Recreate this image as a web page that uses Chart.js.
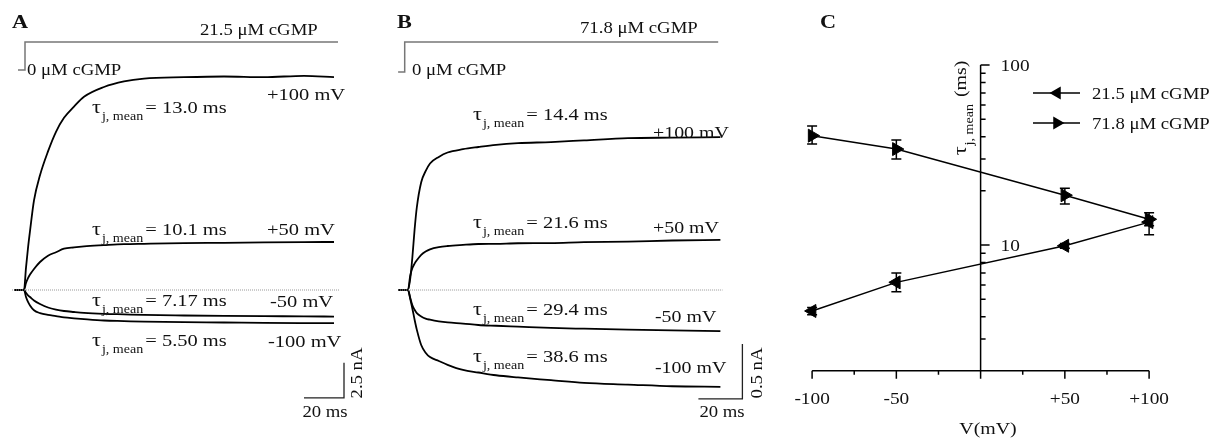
<!DOCTYPE html>
<html>
<head>
<meta charset="utf-8">
<script src="https://cdn.jsdelivr.net/npm/chart.js@4.4.1/dist/chart.umd.min.js"></script>
<style>
  body { margin:0; background:#fff; }
  #wrap { position:relative; width:1215px; height:439px; }
  #wrap canvas { position:absolute; left:0; top:0; }
</style>
</head>
<body>
<div id="wrap">
  <canvas id="panelA" width="1215" height="439"></canvas>
  <canvas id="panelB" width="1215" height="439"></canvas>
  <canvas id="panelC" width="1215" height="439"></canvas>
</div>
<script>
// ---- panel A : 21.5 uM cGMP jump (time ms, current nA) ----
var timeA   = [-5, 0, 1, 2, 3, 5, 8, 12, 16, 20, 25, 30, 40, 50, 60, 80, 100, 120, 140, 155];
var iA_p100 = [0, 0, 1.6, 3.0, 4.2, 6.4, 8.2, 9.9, 11.3, 12.3, 13.1, 13.8, 14.5, 14.9, 15.1, 15.2, 15.25, 15.2, 15.3, 15.2];
var iA_p50  = [0, 0, 0.5, 0.85, 1.1, 1.5, 2.0, 2.45, 2.7, 2.95, 3.05, 3.12, 3.2, 3.27, 3.3, 3.35, 3.37, 3.4, 3.42, 3.43];
var iA_m50  = [0, 0, -0.2, -0.38, -0.5, -0.75, -1.0, -1.25, -1.4, -1.5, -1.57, -1.63, -1.7, -1.74, -1.78, -1.82, -1.85, -1.87, -1.88, -1.9];
var iA_m100 = [0, 0, -0.5, -0.85, -1.1, -1.45, -1.65, -1.78, -1.86, -1.95, -2.02, -2.08, -2.18, -2.22, -2.26, -2.3, -2.32, -2.35, -2.36, -2.36];
var stimTimeA = [-3, 0.5, 0.5, 157];
var stimA     = [0, 0, 21.5, 21.5];
var baseTimeA = [-6, 158];
var scaleA = { t: 140, dt: 20, i: -7.7, di: 2.5 };
var tauA = ['13.0', '10.1', '7.17', '5.50'];

// ---- panel B : 71.8 uM cGMP jump ----
var timeB   = [-4.5, 0, 1, 2, 3, 4, 6, 8, 10, 14, 18, 25, 32, 40, 50, 65, 80, 100, 120, 142];
var iB_p100 = [0, 0, 0.1, 0.3, 0.55, 0.75, 0.98, 1.08, 1.15, 1.21, 1.25, 1.28, 1.3, 1.32, 1.335, 1.345, 1.36, 1.38, 1.385, 1.39];
var iB_p50  = [0, 0, 0.13, 0.2, 0.24, 0.27, 0.32, 0.35, 0.37, 0.39, 0.4, 0.41, 0.418, 0.42, 0.425, 0.427, 0.435, 0.44, 0.45, 0.455];
var iB_m50  = [0, 0, -0.07, -0.14, -0.18, -0.21, -0.24, -0.26, -0.27, -0.285, -0.295, -0.305, -0.318, -0.325, -0.333, -0.345, -0.352, -0.36, -0.367, -0.373];
var iB_m100 = [0, 0, -0.08, -0.17, -0.27, -0.36, -0.5, -0.57, -0.61, -0.645, -0.68, -0.727, -0.75, -0.775, -0.795, -0.82, -0.845, -0.86, -0.875, -0.88];
var stimTimeB = [-4.5, -1.5, -1.5, 141];
var stimB     = [0, 0, 71.8, 71.8];
var baseTimeB = [-4.5, 143];
var scaleB = { t: 132, dt: 20, i: -0.99, di: 0.5 };
var tauB = ['14.4', '21.6', '29.4', '38.6'];

// ---- panel C : tau vs voltage ----
var voltages = [-100, -50, 50, 100];
var tau215   = [4.3, 6.2, 9.9, 13.4];
var tau215Lo = [4.1, 5.5, 9.6, 12.8];
var tau215Hi = [4.5, 7.0, 10.2, 14.0];
var tau718   = [40.5, 34.1, 18.9, 13.9];
var tau718Lo = [36.4, 30.0, 16.9, 11.4];
var tau718Hi = [45.8, 38.3, 20.7, 15.1];
var xTicksC = [-100, -75, -50, -25, 0, 25, 50, 75, 100];
var xLabelsC = { '-100': '-100', '-50': '-50', '50': '+50', '100': '+100' };
var yMinC = 2, yMaxC = 100;

var W = 1215, H = 439;
var SX = 1.17;
var INK = '#111';

function pts(xs, ys) { return xs.map(function (x, i) { return { x: x, y: ys[i] }; }); }

// value range so that value v0 lands at pixel p0 with k px per unit
function rangeX(p0, v0, k) { return { min: v0 - p0 / k, max: v0 + (W - p0) / k }; }
function rangeY(p0, v0, k) { return { min: v0 + (p0 - H) / k, max: v0 + p0 / k }; }

function txt(ctx, s, x, y, size, align, bold) {
  ctx.save();
  ctx.font = (bold ? 'bold ' : '') + size + 'px "Liberation Serif"';
  ctx.fillStyle = INK;
  ctx.textBaseline = 'alphabetic';
  var w = ctx.measureText(s).width * SX;
  var x0 = align === 'center' ? x - w / 2 : (align === 'right' ? x - w : x);
  ctx.translate(x0, y);
  ctx.scale(SX, 1);
  ctx.fillText(s, 0, 0);
  ctx.restore();
  return w;
}
function tauLabel(ctx, x, y, val) {
  var w = txt(ctx, 'τ', x, y, 19);
  w += 1 + txt(ctx, 'j, mean', x + w + 1, y + 7, 12) + 2;
  txt(ctx, '= ' + val + ' ms', x + w, y, 17.5);
}
function rotated(ctx, cx, cy, fn) {
  ctx.save();
  ctx.translate(cx, cy);
  ctx.rotate(-Math.PI / 2);
  fn();
  ctx.restore();
}

function trace(d) {
  return { data: d, borderColor: '#000', borderWidth: 1.8, pointRadius: 0,
           cubicInterpolationMode: 'monotone', fill: false };
}
function straight(d, color, width, dash, axis) {
  var o = { data: d, borderColor: color, borderWidth: width, pointRadius: 0, tension: 0, fill: false,
            borderDash: dash || [] };
  if (axis) o.yAxisID = axis;
  return o;
}
function scaleBar(s) {
  return straight([{ x: s.t, y: s.i }, { x: s.t + s.dt, y: s.i }, { x: s.t + s.dt, y: s.i + s.di }], '#222', 1.3);
}
function baseOpts(rx, ry, rs) {
  var sc = {
    x: { type: 'linear', display: false, min: rx.min, max: rx.max, bounds: 'data' },
    y: { type: 'linear', display: false, min: ry.min, max: ry.max, bounds: 'data' }
  };
  if (rs) sc.ys = { type: 'linear', display: false, min: rs.min, max: rs.max, bounds: 'data' };
  return {
    responsive: false, animation: false, events: [],
    layout: { padding: 0, autoPadding: false },
    plugins: { legend: { display: false }, tooltip: { enabled: false } },
    scales: sc
  };
}

// ---------- Panel A ----------
var rxA = rangeX(24, 0, 2), ryA = rangeY(290, 0, 14), rsA = rangeY(70, 0, 28 / 21.5);
new Chart(document.getElementById('panelA'), {
  type: 'line',
  data: { datasets: [
    straight(pts(baseTimeA, [0, 0]), '#999', 1, [1, 1]),
    straight(pts(stimTimeA, stimA), '#777', 1.5, [], 'ys'),
    trace(pts(timeA, iA_p100)), trace(pts(timeA, iA_p50)),
    trace(pts(timeA, iA_m50)), trace(pts(timeA, iA_m100)),
    scaleBar(scaleA)
  ] },
  options: baseOpts(rxA, ryA, rsA),
  plugins: [{ id: 'textA', afterDraw: function (chart) {
    var ctx = chart.ctx;
    txt(ctx, 'A', 12, 28, 19, 'left', true);
    txt(ctx, '21.5 μM cGMP', 200, 35, 16);
    txt(ctx, '0 μM cGMP', 27, 75, 16);
    tauLabel(ctx, 92, 113, tauA[0]);  txt(ctx, '+100 mV', 267, 100, 17.5);
    tauLabel(ctx, 92, 235, tauA[1]);  txt(ctx, '+50 mV', 267, 235, 17.5);
    tauLabel(ctx, 92, 306, tauA[2]);  txt(ctx, '-50 mV', 270, 307, 17.5);
    tauLabel(ctx, 92, 346, tauA[3]);  txt(ctx, '-100 mV', 268, 347, 17.5);
    txt(ctx, scaleA.dt + ' ms', 325, 417, 16, 'center');
    rotated(ctx, 362, 373, function () { txt(ctx, scaleA.di + ' nA', 0, 0, 16, 'center'); });
  } }]
});

// ---------- Panel B ----------
var rxB = rangeX(408, 0, 2.2), ryB = rangeY(290, 0, 110), rsB = rangeY(72, 0, 30 / 71.8);
new Chart(document.getElementById('panelB'), {
  type: 'line',
  data: { datasets: [
    straight(pts(baseTimeB, [0, 0]), '#999', 1, [1, 1]),
    straight(pts(stimTimeB, stimB), '#777', 1.5, [], 'ys'),
    trace(pts(timeB, iB_p100)), trace(pts(timeB, iB_p50)),
    trace(pts(timeB, iB_m50)), trace(pts(timeB, iB_m100)),
    scaleBar(scaleB)
  ] },
  options: baseOpts(rxB, ryB, rsB),
  plugins: [{ id: 'textB', afterDraw: function (chart) {
    var ctx = chart.ctx;
    txt(ctx, 'B', 397, 28, 19, 'left', true);
    txt(ctx, '71.8 μM cGMP', 580, 33, 16);
    txt(ctx, '0 μM cGMP', 412, 75, 16);
    tauLabel(ctx, 473, 120, tauB[0]);  txt(ctx, '+100 mV', 653, 138, 17);
    tauLabel(ctx, 473, 228, tauB[1]);  txt(ctx, '+50 mV', 653, 233, 17);
    tauLabel(ctx, 473, 315, tauB[2]);  txt(ctx, '-50 mV', 655, 322, 17);
    tauLabel(ctx, 473, 362, tauB[3]);  txt(ctx, '-100 mV', 655, 373, 17);
    txt(ctx, scaleB.dt + ' ms', 722, 417, 16, 'center');
    rotated(ctx, 762, 373, function () { txt(ctx, scaleB.di + ' nA', 0, 0, 16, 'center'); });
  } }]
});

// ---------- Panel C ----------
function tri(ctx, x, y, r, dir) {
  ctx.beginPath();
  ctx.moveTo(x + dir * r, y);
  ctx.lineTo(x - dir * r / 2, y - r * 0.866);
  ctx.lineTo(x - dir * r / 2, y + r * 0.866);
  ctx.closePath();
  ctx.fill();
}
var kC = 180; // px per decade
var rxC = rangeX(980.6, 0, 1.685);
var ryC = { min: Math.pow(10, 1 + (245 - H) / kC), max: Math.pow(10, 1 + 245 / kC) };

function seriesC(vals, rot) {
  return { data: pts(voltages, vals), showLine: true, borderColor: '#000', borderWidth: 1.5,
           pointStyle: 'triangle', rotation: rot, pointRadius: 7.5,
           pointBackgroundColor: '#000', pointBorderColor: '#000', pointBorderWidth: 1 };
}

new Chart(document.getElementById('panelC'), {
  type: 'scatter',
  data: { datasets: [ seriesC(tau215, -90), seriesC(tau718, 90) ] },
  options: (function () {
    var o = baseOpts(rxC, ryC);
    o.scales.y.type = 'logarithmic';
    return o;
  })(),
  plugins: [{
    id: 'axesC',
    beforeDatasetsDraw: function (chart) {
      var ctx = chart.ctx, sx = chart.scales.x, sy = chart.scales.y;
      var x0 = sx.getPixelForValue(0);
      var yb = sy.getPixelForValue(yMinC), yt = sy.getPixelForValue(yMaxC);
      var xl = sx.getPixelForValue(xTicksC[0]), xr = sx.getPixelForValue(xTicksC[xTicksC.length - 1]);
      ctx.save();
      ctx.strokeStyle = '#000';
      ctx.lineWidth = 1.5;
      ctx.beginPath();
      ctx.moveTo(x0, yt); ctx.lineTo(x0, yb);
      ctx.moveTo(xl, yb); ctx.lineTo(xr, yb);
      // y ticks (log), to the right of the axis
      for (var dec = 1; dec <= 10; dec *= 10) {
        for (var m = 1; m <= 9; m++) {
          var v = m * dec;
          if (v < yMinC || v > yMaxC) continue;
          var py = sy.getPixelForValue(v);
          ctx.moveTo(x0, py); ctx.lineTo(x0 + (m === 1 ? 9 : 5), py);
        }
      }
      ctx.moveTo(x0, yt); ctx.lineTo(x0 + 9, yt);
      // x ticks, pointing down
      xTicksC.forEach(function (t) {
        var px = sx.getPixelForValue(t);
        ctx.moveTo(px, yb); ctx.lineTo(px, yb + (t % 50 === 0 ? 8 : 4));
      });
      ctx.stroke();
      ctx.restore();
      [10, 100].forEach(function (v) { txt(ctx, String(v), x0 + 20, sy.getPixelForValue(v) + 6, 16.5); });
      xTicksC.forEach(function (t) {
        if (xLabelsC[t]) txt(ctx, xLabelsC[t], sx.getPixelForValue(t), yb + 33, 16.5, 'center');
      });
    },
    afterDatasetsDraw: function (chart) {
      var ctx = chart.ctx, sx = chart.scales.x, sy = chart.scales.y;
      ctx.save();
      ctx.strokeStyle = '#000';
      ctx.lineWidth = 1.5;
      ctx.beginPath();
      [[tau215Lo, tau215Hi], [tau718Lo, tau718Hi]].forEach(function (e) {
        voltages.forEach(function (v, i) {
          var px = sx.getPixelForValue(v), lo = sy.getPixelForValue(e[0][i]), hi = sy.getPixelForValue(e[1][i]);
          ctx.moveTo(px, lo); ctx.lineTo(px, hi);
          ctx.moveTo(px - 5, lo); ctx.lineTo(px + 5, lo);
          ctx.moveTo(px - 5, hi); ctx.lineTo(px + 5, hi);
        });
      });
      ctx.stroke();
      // legend
      ctx.fillStyle = '#000';
      ctx.lineWidth = 1.5;
      [[93, -1, '21.5 μM cGMP'], [123, 1, '71.8 μM cGMP']].forEach(function (l) {
        ctx.beginPath();
        ctx.moveTo(1033, l[0]); ctx.lineTo(1080, l[0]);
        ctx.stroke();
        tri(ctx, 1057, l[0], 7.5, l[1]);
        txt(ctx, l[2], 1092, l[0] + 6, 16);
      });
      ctx.restore();
      txt(ctx, 'C', 820, 28, 19, 'left', true);
      txt(ctx, 'V(mV)', 988, 434, 17, 'center');
      // y title, rotated
      rotated(ctx, 966, 108, function () {
        ctx.save();
        ctx.font = '19px "Liberation Serif"';
        var w1 = ctx.measureText('τ').width * SX;
        ctx.font = '12px "Liberation Serif"';
        var w2 = ctx.measureText('j, mean').width * SX;
        ctx.font = '17px "Liberation Serif"';
        var w3 = ctx.measureText(' (ms)').width * SX;
        ctx.restore();
        var s = -(w1 + w2 + w3 + 3) / 2;
        txt(ctx, 'τ', s, 0, 19);
        txt(ctx, 'j, mean', s + w1 + 1, 7, 12);
        txt(ctx, ' (ms)', s + w1 + w2 + 3, 0, 17);
      });
    }
  }]
});
</script>
</body>
</html>
